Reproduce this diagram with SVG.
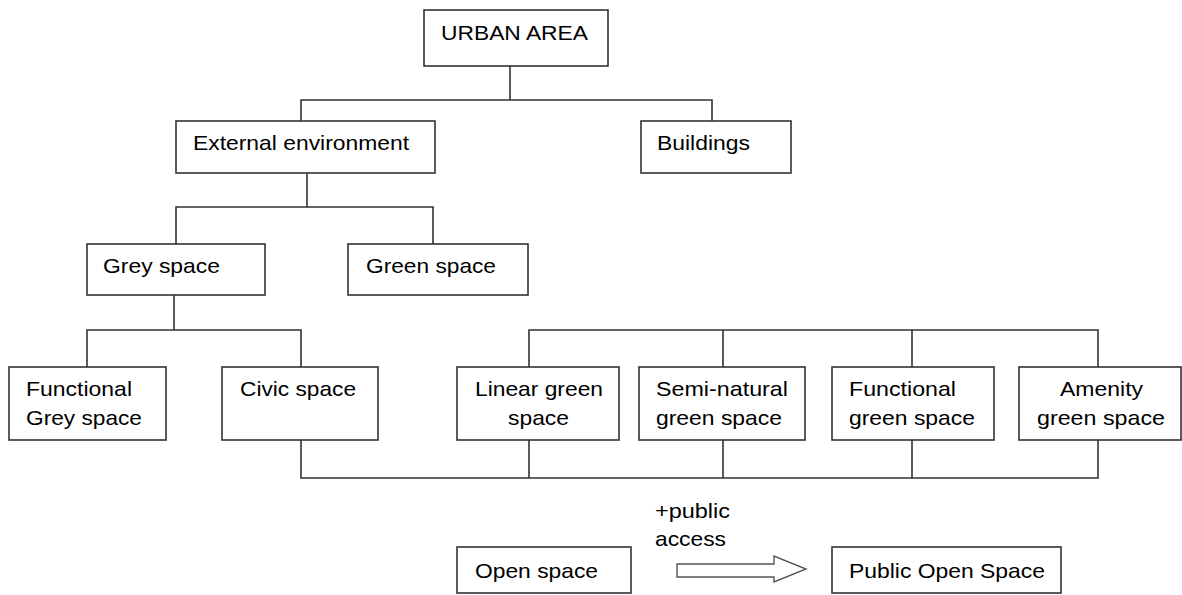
<svg xmlns="http://www.w3.org/2000/svg" width="1182" height="595" viewBox="0 0 1182 595">
<style>
.box{fill:#fff;stroke:#333;stroke-width:1.6}
.t{font-family:"Liberation Sans",Arial,sans-serif;font-size:21px;fill:#000}
.c{fill:none;stroke:#333;stroke-width:1.6}
</style>
<rect width="1182" height="595" fill="#fff"/>
<g id="connectors">
<path class="c" d="M510 66V100M301 121V100H712V121"/>
<path class="c" d="M307 173V207M176 244V207H433V244"/>
<path class="c" d="M174 295V330M87 367V330H301V367"/>
<path class="c" d="M529 367V330H1098V367M723 330V367M912 330V367"/>
<path class="c" d="M301 440V478H1098V440M529 478V440M723 478V440M912 478V440"/>
</g>
<g id="urban-area"><rect class="box" x="424" y="10" width="184" height="56"/><text class="t" x="441" y="40" textLength="147" lengthAdjust="spacingAndGlyphs">URBAN AREA</text></g>
<g id="external-environment"><rect class="box" x="176" y="121" width="259" height="52"/><text class="t" x="193" y="150" textLength="216" lengthAdjust="spacingAndGlyphs">External environment</text></g>
<g id="buildings"><rect class="box" x="641" y="121" width="150" height="52"/><text class="t" x="657" y="150" textLength="93" lengthAdjust="spacingAndGlyphs">Buildings</text></g>
<g id="grey-space"><rect class="box" x="87" y="244" width="178" height="51"/><text class="t" x="103" y="273" textLength="117" lengthAdjust="spacingAndGlyphs">Grey space</text></g>
<g id="green-space"><rect class="box" x="348" y="244" width="180" height="51"/><text class="t" x="366" y="273" textLength="130" lengthAdjust="spacingAndGlyphs">Green space</text></g>
<g id="functional-grey-space"><rect class="box" x="9" y="367" width="157" height="73"/><text class="t" x="26" y="396" textLength="106" lengthAdjust="spacingAndGlyphs">Functional</text><text class="t" x="26" y="425" textLength="116" lengthAdjust="spacingAndGlyphs">Grey space</text></g>
<g id="civic-space"><rect class="box" x="222" y="367" width="156" height="73"/><text class="t" x="240" y="396" textLength="116" lengthAdjust="spacingAndGlyphs">Civic space</text></g>
<g id="linear-green-space"><rect class="box" x="457" y="367" width="162" height="73"/><text class="t" x="475" y="396" textLength="128" lengthAdjust="spacingAndGlyphs">Linear green</text><text class="t" x="508" y="425" textLength="61" lengthAdjust="spacingAndGlyphs">space</text></g>
<g id="semi-natural-green-space"><rect class="box" x="639" y="367" width="166" height="73"/><text class="t" x="656" y="396" textLength="132" lengthAdjust="spacingAndGlyphs">Semi-natural</text><text class="t" x="656" y="425" textLength="126" lengthAdjust="spacingAndGlyphs">green space</text></g>
<g id="functional-green-space"><rect class="box" x="832" y="367" width="162" height="73"/><text class="t" x="849" y="396" textLength="107" lengthAdjust="spacingAndGlyphs">Functional</text><text class="t" x="849" y="425" textLength="126" lengthAdjust="spacingAndGlyphs">green space</text></g>
<g id="amenity-green-space"><rect class="box" x="1019" y="367" width="162" height="73"/><text class="t" x="1060" y="396" textLength="83" lengthAdjust="spacingAndGlyphs">Amenity</text><text class="t" x="1037" y="425" textLength="128" lengthAdjust="spacingAndGlyphs">green space</text></g>
<g id="open-space"><rect class="box" x="457" y="547" width="174" height="46"/><text class="t" x="475" y="578" textLength="123" lengthAdjust="spacingAndGlyphs">Open space</text></g>
<g id="public-open-space"><rect class="box" x="832" y="547" width="229" height="46"/><text class="t" x="849" y="578" textLength="196" lengthAdjust="spacingAndGlyphs">Public Open Space</text></g>
<g id="public-access-arrow">
<path d="M677 564H774V556L806 569L774 582V577H677Z" fill="#fff" stroke="#555" stroke-width="1.4"/>
<text class="t" x="655" y="518" textLength="75" lengthAdjust="spacingAndGlyphs">+public</text>
<text class="t" x="655" y="546" textLength="71" lengthAdjust="spacingAndGlyphs">access</text>
</g>
</svg>
